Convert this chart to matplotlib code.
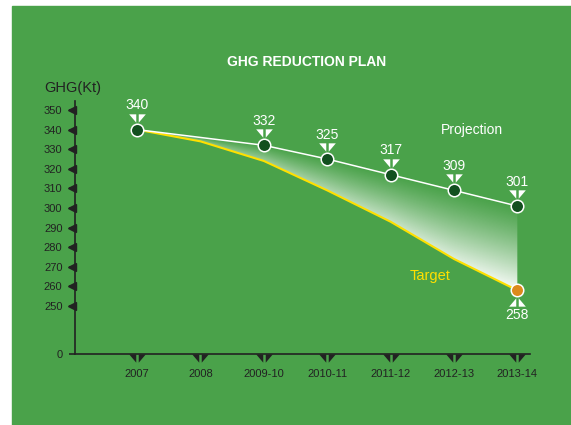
import numpy as np
import matplotlib.pyplot as plt
from matplotlib.patches import Rectangle
from matplotlib.path import Path
from matplotlib.transforms import offset_copy

plt.rcParams['font.family'] = ['Liberation Sans', 'DejaVu Sans']

# data
years = ['2007', '2008', '2009-10', '2010-11', '2011-12', '2012-13', '2013-14']
proj_idx = [0, 2, 3, 4, 5, 6]
projection = [340, 332, 325, 317, 309, 301]
target = [340, 334, 324, 309, 293, 274, 258]
y_ticks = [250, 260, 270, 280, 290, 300, 310, 320, 330, 340, 350]
y_zero = 225.5   # where the broken axis puts "0"

green = '#4aa24a'
dark = '#222222'
node = '#12501f'
yellow = '#ffe000'
orange = '#dc8a1c'

W, H = 571, 425
fig = plt.figure(figsize=(W / 100, H / 100), dpi=100)
fig.patch.set_facecolor('white')
fig.add_artist(Rectangle((12 / W, 0), 1, 419 / H, transform=fig.transFigure,
                         color=green, zorder=-10))

ax = fig.add_axes([75 / W, (H - 354) / H, 455 / W, 253 / H])
ax.set_facecolor('none')
ax.set_xlim(-0.98, 6.2)
ax.set_ylim(y_zero, 354.6)

x = np.arange(len(years))

# split triangle markers (two halves of a triangle with a slit)
M, L, C = Path.MOVETO, Path.LINETO, Path.CLOSEPOLY
g = 0.15
down_split = Path([(-1, 0.5), (-g, 0.5), (-g, -0.5), (-1, 0.5),
                   (g, 0.5), (1, 0.5), (g, -0.5), (g, 0.5)],
                  [M, L, L, C, M, L, L, C])
up_split = Path([(-1, -0.5), (-g, -0.5), (-g, 0.5), (-1, -0.5),
                 (g, -0.5), (1, -0.5), (g, 0.5), (g, -0.5)],
                [M, L, L, C, M, L, L, C])

# gradient between projection and target
gx = np.linspace(0, 6, 500)
gy = np.linspace(250, 345, 400)
XX, YY = np.meshgrid(gx, gy)
p = np.interp(XX, proj_idx, projection)
tg = np.interp(XX, x, target)
span = np.maximum(p - tg, 1e-6)
t = np.clip((p - YY) / span, 0, 1)
alpha = t ** 1.2 * (0.3 + 0.7 * (XX / 6) ** 1.3) * 0.95
rgba = np.ones(XX.shape + (4,))
rgba[..., 3] = alpha
im = ax.imshow(rgba, extent=(0, 6, 250, 345), origin='lower', aspect='auto',
               interpolation='bilinear', zorder=1)
poly = ax.fill_between(x, np.interp(x, proj_idx, projection), target,
                       color='none', lw=0)
im.set_clip_path(poly.get_paths()[0], transform=ax.transData)

ax.plot(x, target, color=yellow, lw=1.5, zorder=2)
ax.plot(proj_idx, projection, color='white', lw=1.1, zorder=3)
ax.plot(proj_idx, projection, 'o', ms=9, mfc=node, mec='white', mew=1.1, zorder=4)
ax.plot(x[-1], target[-1], 'o', ms=9, mfc=orange, mec='white', mew=1.1, zorder=4)

# value labels
above = offset_copy(ax.transData, fig=fig, x=0, y=12, units='dots')
ax.plot(proj_idx, projection, ls='none', marker=down_split, ms=12, color='white',
        mew=0, transform=above, zorder=4)
for xi, v in zip(proj_idx, projection):
    ax.annotate(str(v), (xi, v), xytext=(0, 17.5), textcoords='offset points',
                ha='center', va='center', color='white', fontsize=10)
below = offset_copy(ax.transData, fig=fig, x=0, y=-12, units='dots')
ax.plot(x[-1], target[-1], ls='none', marker=up_split, ms=12, color='white',
        mew=0, transform=below, zorder=4)
ax.annotate(str(target[-1]), (x[-1], target[-1]), xytext=(0, -17.5),
            textcoords='offset points', ha='center', va='center',
            color='white', fontsize=10)

ax.text(5.29, 339.8, 'Projection', color='white', fontsize=10,
        ha='center', va='center')
ax.text(4.63, 265.3, 'Target', color=yellow, fontsize=10.5,
        ha='center', va='center')

# axes styling
for s in ['top', 'right']:
    ax.spines[s].set_visible(False)
for s in ['left', 'bottom']:
    ax.spines[s].set_color(dark)
    ax.spines[s].set_linewidth(1.2)

ax.set_yticks(y_ticks + [y_zero])
ax.set_yticklabels([str(v) for v in y_ticks] + ['0'])
ax.set_xticks(x)
ax.set_xticklabels(years)
ax.tick_params(axis='y', length=4, width=1.2, color=dark, labelcolor=dark,
               labelsize=8, pad=5)
ax.tick_params(axis='x', length=0, labelcolor=dark, labelsize=8, pad=11)

left_tr = offset_copy(ax.get_yaxis_transform(), fig=fig, x=-3, y=0, units='dots')
ax.plot(np.zeros(len(y_ticks)), y_ticks, ls='none', marker='<', ms=6,
        color=dark, transform=left_tr, clip_on=False)
bot_tr = offset_copy(ax.get_xaxis_transform(), fig=fig, x=0, y=-4, units='dots')
ax.plot(x, np.zeros(len(x)), ls='none', marker=down_split, ms=12,
        color=dark, mew=0, transform=bot_tr, clip_on=False)

fig.text(307 / W, 1 - 62 / H, 'GHG REDUCTION PLAN', color='white',
         fontsize=10, fontweight='bold', ha='center', va='center')
fig.text(44 / W, 1 - 88 / H, 'GHG(Kt)', color=dark, fontsize=10.5,
         ha='left', va='center')

fig.savefig('out.png', dpi=100)
